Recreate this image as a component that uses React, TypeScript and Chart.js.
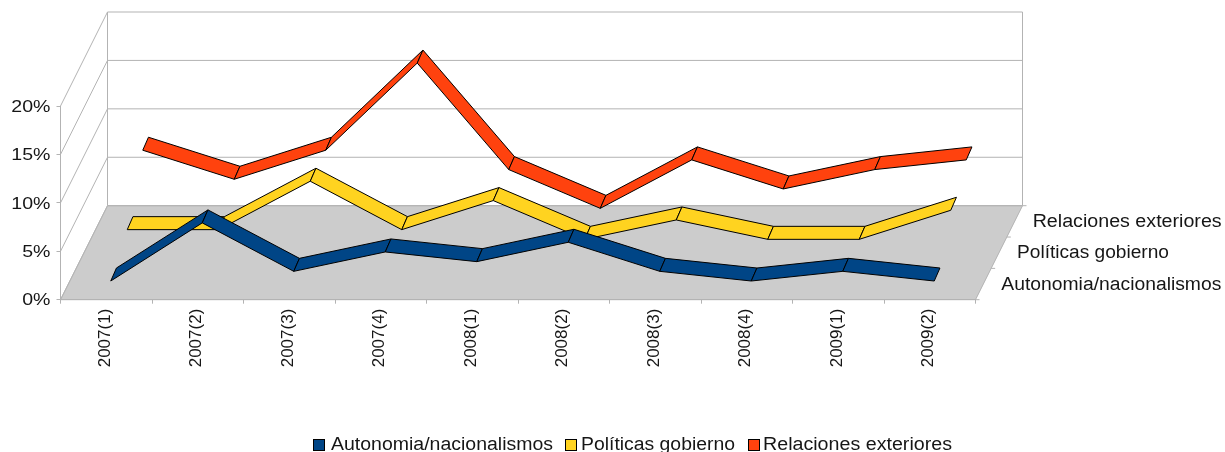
import React, { useEffect, useRef } from "react";
import { Chart, registerables } from "chart.js";

Chart.register(...registerables);

const categories = ["2007(1)", "2007(2)", "2007(3)", "2007(4)", "2008(1)", "2008(2)", "2008(3)", "2008(4)", "2009(1)", "2009(2)"];
const autonomia = [1, 7, 2, 4, 3, 5, 2, 1, 2, 1];
const politicas = [3, 3, 8, 3, 6, 2, 4, 2, 2, 5];
const relaciones = [8, 5, 8, 17, 6, 2, 7, 4, 6, 7];
const seriesNames = ["Autonomia/nacionalismos", "Políticas gobierno", "Relaciones exteriores"];
const seriesColors = ["#004586", "#ffd320", "#ff420e"];

const FONT = '"Liberation Sans", Arial, sans-serif';
const GRID = "#b3b3b3";
const TEXT = "#161616";
const DEPTH_X = 47;
const DEPTH_Y = -94;
// Offset of each ribbon's front edge on the depth axis
const LANE_DX = [4.5, 21, 36.5];
const LANE_DY = [-9, -41, -72];
const RIBBON_DX = 5.7;
const RIBBON_DY = -13;
const LEGEND_BOX_X = [313, 565, 748];
const LEGEND_TEXT_X = [331, 581, 763];
const LEGEND_TEXT_W = [222, 154, 189];
const DEPTH_TEXT_W = [220, 152, 189];
const Y_TICK_STRETCH = 1.15;
const Y_TICK_RIGHT = 50.5;
const Y_TICK_SHIFT = 1;

function fittedText(ctx: CanvasRenderingContext2D, s: string, x: number, y: number, w: number) {
  ctx.save();
  ctx.font = `18px ${FONT}`;
  const k = w / ctx.measureText(s).width;
  ctx.translate(x, y);
  ctx.scale(k, 1);
  ctx.fillStyle = TEXT;
  ctx.textAlign = "left";
  ctx.textBaseline = "middle";
  ctx.fillText(s, 0, 0);
  ctx.restore();
}

function seg(ctx: CanvasRenderingContext2D, x1: number, y1: number, x2: number, y2: number) {
  ctx.beginPath();
  ctx.moveTo(x1, y1);
  ctx.lineTo(x2, y2);
  ctx.stroke();
}

const walls = {
  id: "walls",
  beforeDraw(chart: any) {
    const { ctx, scales } = chart;
    const { x, y } = scales;
    const L = x.left, R = x.right, B = y.getPixelForValue(0);
    ctx.save();
    ctx.strokeStyle = GRID;
    ctx.lineWidth = 1;
    // floor
    ctx.fillStyle = "#cccccc";
    ctx.beginPath();
    ctx.moveTo(L, B);
    ctx.lineTo(R, B);
    ctx.lineTo(R + DEPTH_X, B + DEPTH_Y);
    ctx.lineTo(L + DEPTH_X, B + DEPTH_Y);
    ctx.closePath();
    ctx.fill();
    ctx.stroke();
    // back and side wall gridlines
    for (const v of y.ticks.map((t: any) => t.value)) {
      const py = y.getPixelForValue(v);
      seg(ctx, L, py, L + DEPTH_X, py + DEPTH_Y);
      seg(ctx, L + DEPTH_X, py + DEPTH_Y, R + DEPTH_X, py + DEPTH_Y);
    }
    seg(ctx, L + DEPTH_X, y.getPixelForValue(20) + DEPTH_Y, L + DEPTH_X, B + DEPTH_Y);
    seg(ctx, R + DEPTH_X, y.getPixelForValue(20) + DEPTH_Y, R + DEPTH_X, B + DEPTH_Y);
    // depth axis ticks
    for (let i = 0; i <= 3; i++) {
      const tx = R + (DEPTH_X * i) / 3;
      const ty = B + (DEPTH_Y * i) / 3;
      seg(ctx, tx, ty, tx + 4, ty);
    }
    ctx.restore();
    // depth axis labels
    seriesNames.forEach((name, i) => {
      const lx = R + (DEPTH_X * (i + 0.5)) / 3 + 18;
      const ly = B + (DEPTH_Y * (i + 0.5)) / 3 + 0.5;
      fittedText(ctx, name, lx, ly, DEPTH_TEXT_W[i]);
    });
    // legend
    const legendY = 445;
    seriesNames.forEach((name, i) => {
      ctx.save();
      ctx.fillStyle = seriesColors[i];
      ctx.strokeStyle = "#000";
      ctx.lineWidth = 1;
      ctx.fillRect(LEGEND_BOX_X[i] + 0.5, legendY - 5.5, 11, 11);
      ctx.strokeRect(LEGEND_BOX_X[i] + 0.5, legendY - 5.5, 11, 11);
      ctx.restore();
      fittedText(ctx, name, LEGEND_TEXT_X[i], legendY, LEGEND_TEXT_W[i]);
    });
  },
};

const ribbons = {
  id: "ribbons",
  beforeDatasetsDraw(chart: any) {
    const { ctx, scales } = chart;
    const { x, y } = scales;
    ctx.save();
    ctx.strokeStyle = "#000";
    ctx.lineWidth = 1;
    ctx.lineJoin = "round";
    // far series first so that nearer ones overlap them
    for (let s = chart.data.datasets.length - 1; s >= 0; s--) {
      const ds = chart.data.datasets[s];
      ctx.fillStyle = ds.backgroundColor;
      for (let i = 0; i < ds.data.length - 1; i++) {
        const x1 = x.getPixelForValue(i) + LANE_DX[s];
        const x2 = x.getPixelForValue(i + 1) + LANE_DX[s];
        const y1 = y.getPixelForValue(ds.data[i]) + LANE_DY[s];
        const y2 = y.getPixelForValue(ds.data[i + 1]) + LANE_DY[s];
        ctx.beginPath();
        ctx.moveTo(x1, y1);
        ctx.lineTo(x2, y2);
        ctx.lineTo(x2 + RIBBON_DX, y2 + RIBBON_DY);
        ctx.lineTo(x1 + RIBBON_DX, y1 + RIBBON_DY);
        ctx.closePath();
        ctx.fill();
        ctx.stroke();
      }
    }
    ctx.restore();
  },
};

// The reference's value labels are wider than any installed font: widen them about their right edge.
function widenLabels(scale: any) {
  if (scale.__widened) return;
  scale.__widened = true;
  const draw = scale.drawLabels;
  scale.drawLabels = function (area: any) {
    const ctx = this.ctx;
    ctx.save();
    ctx.translate(Y_TICK_RIGHT, Y_TICK_SHIFT);
    ctx.scale(Y_TICK_STRETCH, 1);
    ctx.translate(-Y_TICK_RIGHT, 0);
    draw.call(this, area);
    ctx.restore();
  };
}

export default function App() {
  const ref = useRef<HTMLCanvasElement>(null);
  useEffect(() => {
    const values = [autonomia, politicas, relaciones];
    const chart = new Chart(ref.current!, {
      type: "line",
      data: {
        labels: categories,
        datasets: seriesNames.map((name, i) => ({
          label: name,
          data: values[i],
          borderColor: seriesColors[i],
          backgroundColor: seriesColors[i],
          showLine: false,
          pointRadius: 0,
        })),
      },
      options: {
        responsive: false,
        animation: false,
        layout: { padding: { top: 106, right: 249.5, left: 0, bottom: 0 } },
        plugins: { legend: { display: false }, title: { display: false }, tooltip: { enabled: false } },
        scales: {
          x: {
            type: "category",
            offset: true,
            afterFit(s: any) { s.height = 152.3; },
            border: { color: GRID },
            grid: { offset: true, drawOnChartArea: false, tickLength: 4, tickColor: GRID, color: GRID },
            ticks: { autoSkip: false, minRotation: 90, maxRotation: 90, padding: 5, labelOffset: -1, color: TEXT, font: { family: FONT, size: 17 } },
          },
          y: {
            min: 0,
            max: 20,
            afterFit(s: any) { s.width = 60.5; widenLabels(s); },
            border: { color: GRID },
            grid: { drawOnChartArea: false, tickLength: 4, tickColor: GRID, color: GRID },
            ticks: { stepSize: 5, padding: 6, color: TEXT, font: { family: FONT, size: 17 }, callback: (v: any) => `${v}%` },
          },
        },
      },
      plugins: [walls, ribbons],
    } as any);
    return () => chart.destroy();
  }, []);
  return (
    <canvas
      ref={ref}
      width={1225}
      height={452}
      style={{ display: "block", position: "absolute", left: 0, top: 0, width: 1225, height: 452, filter: "blur(0.35px)" }}
    />
  );
}
